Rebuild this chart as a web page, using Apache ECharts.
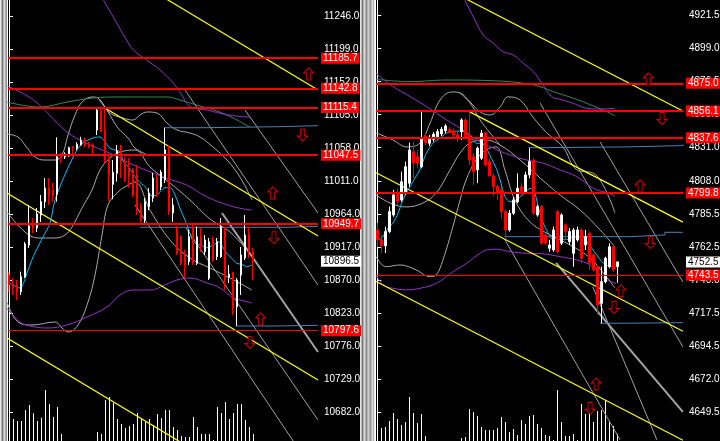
<!DOCTYPE html>
<html><head><meta charset="utf-8">
<script src="https://cdn.jsdelivr.net/npm/echarts@6/dist/echarts.min.js"></script>
<style>html,body{margin:0;padding:0;background:#000;overflow:hidden}#c{width:720px;height:441px}</style>
</head><body><div id="c"></div>
<script>
// ---------- tick labels ----------
const leftTicks = [10682.0,10729.0,10776.0,10823.0,10870.0,10917.0,10964.0,11011.0,11058.0,11105.0,11152.0,11199.0,11246.0];
const rightTicks = [4649.5,4672.0,4694.5,4717.5,4740.0,4762.5,4785.5,4808.0,4831.0,4853.5,4876.5,4899.0,4921.5];

// ---------- candles [open, high, low, close] ----------
const leftCandles = [
[10876.9,10881.2,10852.7,10862.6],[10865.0,10872.6,10848.4,10858.8],[10862.6,10869.8,10841.3,10853.1],[10853.1,10881.6,10848.4,10874.5],
[10874.5,10923.9,10872.6,10921.0],[10919.6,10976.6,10915.3,10946.7],[10950.5,10958.0,10936.7,10943.4],[10943.8,10972.3,10938.1,10963.7],
[10962.3,10990.8,10952.4,10981.3],[10981.3,11015.0,10972.3,11000.8],[11000.8,11015.0,10976.6,10990.8],[10999.3,11008.3,10981.3,10990.8],
[10991.8,11073.0,10981.3,11045.4],[11046.4,11050.2,11036.0,11043.1],[11044.9,11051.6,11042.1,11048.8],[11046.4,11059.6,11045.4,11058.2],
[11059.2,11060.6,11045.4,11057.3],[11057.3,11065.9,11054.9,11063.0],[11062.0,11073.8,11061.0,11069.1],[11069.1,11072.4,11058.7,11062.0],
[11063.0,11066.7,11057.3,11059.6],[11062.0,11064.4,11047.8,11061.0],[11083.4,11113.3,11076.2,11111.8],[11110.4,11114.7,11080.5,11081.0],
[11081.9,11115.1,11036.0,11040.6],[11043.1,11047.8,10982.3,11019.3],[11006.0,11040.6,10984.7,11023.1],[11021.7,11062.0,11009.7,11053.5],
[11060.6,11062.0,11015.0,11038.2],[11038.2,11045.4,11009.3,11012.2],[11026.4,11043.5,11001.2,11016.9],[11026.4,11029.3,10988.0,10990.8],
[11019.3,11033.5,10962.3,10972.3],[10974.1,10979.4,10951.4,10955.2],[10955.2,10986.5,10948.1,10981.3],[10973.7,11000.8,10969.4,10993.7],
[10986.5,11022.1,10980.8,11015.0],[11016.4,11019.3,10988.0,10990.8],[11002.2,11026.4,10997.9,11023.6],[11012.2,11086.2,11007.9,11054.9],
[11059.6,11062.0,10962.3,10967.0],[10965.2,10986.5,10952.4,10976.6],[10943.8,10946.7,10905.4,10908.2],[10931.4,10933.8,10891.1,10893.5],
[10905.4,10912.5,10872.6,10891.1],[10895.8,10941.0,10891.1,10931.4],[10943.8,10950.9,10891.1,10894.0],[10893.5,10945.7,10891.1,10931.4],
[10931.4,10943.8,10910.1,10919.6],[10910.1,10933.8,10905.4,10926.7],[10872.2,10929.6,10869.8,10924.3],[10926.7,10931.4,10895.4,10898.2],
[10903.0,10929.6,10898.2,10924.3],[10903.0,10958.0,10901.1,10945.7],[10943.4,10945.7,10855.5,10869.8],[10874.0,10891.1,10865.5,10878.3],
[10879.7,10881.6,10819.9,10829.9],[10831.7,10872.6,10804.3,10869.8],[10876.9,10916.8,10848.4,10905.4],[10901.1,10962.3,10898.2,10933.8],
[10933.8,10945.7,10901.1,10910.1],[10910.1,10915.3,10869.8,10896.5]
];
const rightCandles = [
[4774.4,4779.2,4762.8,4767.6],[4767.6,4771.0,4758.6,4763.6],[4763.6,4776.7,4758.6,4773.3],[4773.3,4790.4,4772.2,4787.0],
[4784.7,4801.9,4783.5,4798.4],[4799.6,4803.0,4791.6,4793.8],[4795.0,4814.4,4793.8,4807.5],[4799.6,4821.3,4798.4,4817.8],
[4806.5,4834.3,4804.1,4829.3],[4828.1,4835.0,4810.1,4820.2],[4824.7,4829.3,4816.7,4820.2],[4817.8,4855.6,4816.7,4836.6],
[4838.9,4840.8,4832.7,4834.3],[4833.9,4839.6,4832.0,4837.3],[4836.6,4841.6,4835.0,4840.1],[4838.4,4843.7,4837.5,4841.9],
[4840.3,4845.1,4838.9,4843.5],[4842.5,4847.1,4840.8,4845.8],[4843.5,4845.1,4840.3,4841.2],[4842.5,4844.2,4837.3,4839.6],
[4839.8,4841.9,4835.0,4838.0],[4841.9,4851.0,4836.2,4849.9],[4849.9,4851.0,4836.6,4837.3],[4839.6,4855.6,4819.0,4822.4],
[4824.7,4827.0,4805.3,4814.4],[4815.6,4831.6,4806.5,4830.5],[4823.6,4843.0,4822.4,4840.8],[4841.2,4841.9,4817.8,4819.0],
[4821.3,4823.6,4811.0,4811.5],[4811.5,4813.3,4797.3,4804.1],[4804.1,4805.3,4795.0,4799.6],[4801.9,4803.2,4782.4,4787.0],
[4787.0,4788.1,4769.0,4774.4],[4774.4,4788.1,4773.3,4785.9],[4785.9,4797.1,4784.7,4795.0],[4793.8,4813.3,4792.7,4803.0],
[4804.1,4806.7,4798.4,4800.7],[4800.7,4814.4,4799.6,4812.2],[4812.2,4830.5,4809.9,4821.3],[4822.4,4823.6,4784.7,4785.9],
[4784.7,4791.6,4783.5,4790.4],[4790.4,4791.6,4764.1,4765.3],[4771.0,4772.2,4764.1,4765.3],[4761.9,4767.6,4759.5,4764.1],
[4760.7,4776.7,4759.5,4774.4],[4787.0,4788.1,4758.4,4759.5],[4765.3,4785.9,4764.1,4784.7],[4777.9,4779.0,4767.6,4773.3],
[4766.4,4775.6,4764.1,4773.3],[4758.4,4775.6,4749.2,4774.4],[4767.6,4776.7,4766.4,4774.4],[4774.4,4775.6,4751.6,4755.0],
[4764.1,4774.4,4760.7,4769.8],[4772.2,4773.3,4747.0,4751.6],[4757.3,4758.4,4745.8,4747.0],[4749.2,4750.4,4716.1,4723.0],
[4724.1,4749.2,4710.4,4738.9],[4738.9,4756.1,4737.8,4755.0],[4749.2,4765.3,4748.1,4762.9],[4762.9,4764.1,4745.8,4747.0],
[4749.2,4752.5,4738.1,4752.5]
];

// ---------- tick volume ----------
const leftVolume = [237,220,200,200,310,360,277,200,233,510,370,240,340,70,0,0,0,0,0,0,0,0,90,70,410,440,380,220,170,130,150,170,280,220,190,220,160,270,230,310,310,140,110,50,40,40,240,140,70,70,70,10,340,280,390,220,280,370,370,210,140,70];
const rightVolume = [120,130,140,200,280,220,160,190,440,280,180,270,50,0,0,0,0,0,0,0,0,30,40,320,290,250,140,110,110,110,130,240,190,90,120,60,210,170,250,260,170,130,60,50,10,510,190,50,50,70,10,370,270,310,190,300,310,410,200,150,70];

// ---------- price levels ----------
const leftLevels = [11185.7,11142.8,11115.4,11047.5,10949.7];
const leftLevelsThin = [10797.6];
const leftLast = 10896.5;
const rightLevels = [4875.0,4856.1,4837.6,4799.8];
const rightLevelsThin = [4743.5];
const rightLast = 4752.5;

// ---------- indicator lines [barIndex, price] ----------
const leftCyan = [[-0.5,10866.9],[1,10862.6],[2.75,10858.4],[4.5,10879.7],[6,10902.5],[8.5,10931.0],[10.25,10950.9],[11.5,10983.7],[14.5,11026.4],[17,11054.9],[18.5,11064.9],[21,11072.0],[22.75,11073.4],[24,11066.7],[25.25,11057.3],[26.5,11054.9],[27.75,11052.5],[28.6,11038.2],[29.8,11031.1],[31.5,11016.9],[32.75,11008.9],[34.4,11000.3],[35.25,10990.8],[36.5,10989.8],[37.75,10995.5],[39,11001.2],[40.25,11001.2],[41.5,10990.8],[42.75,10971.9],[44,10955.2],[45.1,10938.5],[46.1,10924.3],[47.75,10919.6],[49.4,10915.8],[51.1,10919.6],[52.3,10924.3],[53.4,10917.2],[54.4,10907.8],[55.7,10900.7],[56.9,10893.5],[58.2,10892.1],[59.4,10888.7],[60.7,10891.1]];
const leftPurpleA = [[23.6,11268.5],[26.5,11240.0],[29.4,11211.5],[31.1,11197.3],[34.4,11183.1],[37.75,11168.8],[41.1,11149.9],[43.2,11133.2],[44.8,11119.0],[46.5,11114.3],[49.4,11111.9],[52.75,11107.2],[56.1,11103.7],[60.25,11101.5]];
const leftPurpleB = [[-0.4,11146.0],[6.1,11126.1],[14.4,11081.0],[19.4,11064.4],[25.25,11050.2],[31.1,11033.5],[35.25,11024.0],[39.4,11014.6],[44.4,11005.0],[49.4,10988.4],[56.1,10974.1],[60.7,10969.4]];
const leftPurpleC = [[-0.5,10829.9],[2.75,10809.9],[5.25,10804.3],[9.5,10801.4],[14.5,10805.7],[19.5,10817.1],[24.5,10831.3],[27.75,10848.4],[31,10855.5],[35.25,10855.5],[39.5,10864.1],[42,10869.8],[45.25,10872.6],[49.5,10865.5],[52.75,10858.4],[56,10844.1],[57.75,10841.3],[60.75,10837.0]];
const leftGreen = [[-0.5,11123.2],[7.75,11116.1],[14.5,11123.2],[21,11128.9],[27,11130.4],[39.5,11130.4],[42.75,11126.1],[47.75,11117.5],[52,11110.4],[56,11100.5],[60.25,11087.6]];
const leftBandUp = [[-0.5,11077.7],[2.25,11073.4],[4,11062.0],[6.5,11044.9],[9,11040.6],[11.5,11040.6],[13.25,11047.8],[14.75,11076.2],[16.5,11104.7],[18.25,11123.2],[20.75,11130.4],[22.25,11128.9],[25.25,11107.6],[28.5,11100.5],[31,11097.6],[32.75,11104.7],[34.5,11109.0],[37,11107.6],[39.5,11093.3],[42,11083.4],[45.25,11079.1],[47.75,11073.4],[51,11059.2],[54.5,11040.6],[57.75,11016.4],[60.75,10983.7]];
const leftBandAlt = [[22.25,11128.9],[24.75,11109.0],[27.25,11086.2],[29.75,11072.0],[31.5,11057.7],[35.25,11046.4]];
const leftBandMid = [[-0.5,10966.6],[4,10938.1],[7.25,10929.6],[11.5,10929.6],[14,10933.8],[15.75,10945.2],[18.25,10972.3],[20.75,10997.9],[22.75,11026.4],[25.25,11043.5],[27.75,11052.0],[31.5,11054.9],[35.25,11030.7],[40.25,11007.9],[45.25,10983.7],[50.25,10956.6],[55.25,10938.1],[60.75,10904.0]];
const leftBandLow = [[-0.5,10838.4],[2.25,10810.0],[5.75,10805.7],[11.5,10810.0],[13.25,10801.4],[14.75,10795.7],[17.25,10805.7],[19.75,10838.4],[21.5,10876.9],[23.25,10933.8],[24.75,10976.6],[27.25,10995.1],[29.75,11005.0],[31.5,11009.3],[35.25,10969.4],[40.25,10926.7],[45.25,10901.1],[50.25,10886.8],[55.25,10872.6],[60.75,10855.5]];
const leftRays = [[[44,11140.3],[77.25,10862.6]],[[59,11111.9],[77.25,10965.2]],[[31.5,10976.6],[77.25,10587.8]],[[44.25,10943.8],[77.25,10670.4]]];
const leftRayWide = [[53.25,10965.2],[77.25,10767.2]];
const leftChannel = [[[30,11301.8],[77.25,11140.3]],[[24,11114.7],[77.25,10932.4]],[[-0.5,10993.7],[77.25,10727.4]],[[-0.5,10787.2],[77.25,10521.3]]];
const leftBlue = [[[38.75,11086.6],[48.5,11088.1],[67.75,11089.5],[77.25,11089.5]],[[32.75,10944.8],[69.5,10946.2],[77.25,10946.2]],[[56.75,10804.3],[67,10805.2],[77.25,10805.2]]];
const leftArrowsUp = [[74.9,11163.1],[65.9,10993.6],[62.9,10814.2]];
const leftArrowsDown = [[73.4,11076.3],[66.25,10930.0],[60.25,10780.8]];

const rightCyan = [[-0.25,4769.8],[0.6,4768.0],[1.4,4769.8],[2.7,4775.6],[3.9,4779.0],[5.2,4785.9],[6.4,4795.0],[7.7,4801.9],[8.9,4807.6],[10.6,4815.6],[12.25,4827.0],[13.9,4833.9],[15.6,4837.3],[17.25,4840.8],[18.9,4841.9],[20.6,4842.3],[21.85,4841.9],[23.1,4839.6],[23.9,4836.2],[24.75,4833.9],[26,4833.9],[27.25,4830.5],[28.5,4823.6],[29.75,4816.7],[30.7,4808.7],[31.9,4797.3],[33.2,4793.8],[34.4,4793.8],[35.7,4797.3],[36.9,4799.6],[38.2,4803.0],[39.25,4800.7],[40.25,4790.4],[41.5,4779.0],[42.75,4772.1],[44,4767.6],[45.25,4769.8],[46.9,4767.6],[48.6,4768.7],[49.85,4769.8],[51.1,4769.8],[52.35,4766.4],[53.6,4761.9],[54.85,4757.3],[56.1,4752.7],[57.35,4750.4],[58.6,4749.2],[59.6,4750.4]];
const rightPurpleA = [[21.9,4932.2],[24.4,4918.5],[26.5,4908.2],[29,4902.5],[31.5,4896.7],[34,4894.5],[36.5,4888.8],[39,4883.0],[41.1,4875.1],[43.6,4865.9],[45.7,4864.1],[49,4861.3],[52.35,4857.9],[55.7,4857.4],[59.4,4857.9]];
const rightPurpleB = [[-0.3,4881.9],[4,4872.7],[8.2,4865.9],[12.35,4859.0],[17.35,4849.9],[20.7,4844.2],[24.85,4836.2],[29,4830.5],[33.2,4825.9],[37.35,4822.4],[41.5,4820.2],[45.7,4815.6],[49.85,4811.0],[54,4803.0],[57.35,4800.0],[59.4,4797.7]];
const rightPurpleC = [[-0.3,4743.5],[1.5,4736.7],[4,4734.4],[7.35,4733.3],[10.7,4734.4],[14.85,4737.9],[19,4745.8],[22.35,4751.6],[25.7,4758.4],[27.35,4760.7],[29.85,4761.2],[33.2,4759.5],[37.35,4758.4],[41.5,4758.0],[45.7,4756.1],[49.85,4753.8],[53.2,4750.4],[55.7,4743.5],[58.2,4739.0],[59.7,4737.9]];
const rightGreen = [[-0.3,4877.8],[8.2,4876.2],[17.35,4877.3],[29,4876.8],[36.5,4875.1],[40.7,4872.7],[44,4869.3],[49,4864.8],[54,4859.5],[57.35,4855.6],[59.4,4852.8]];
const rightBandUp = [[-0.3,4841.0],[3.9,4836.2],[7.4,4831.4],[10.7,4834.1],[13.2,4847.8],[15.7,4863.6],[18.7,4869.1],[20.7,4868.4],[23.2,4862.2],[25.7,4855.4],[28.2,4853.3],[30.7,4858.8],[32.7,4865.7],[35.7,4863.6],[38.9,4851.9],[42.4,4841.0],[46.4,4831.4],[49.9,4815.6],[53.9,4813.5],[55.7,4808.7],[58.2,4795.0],[59.4,4786.1]];
const rightBandAlt = [[20.7,4868.4],[23.2,4861.5],[25.7,4849.9],[28.2,4841.0],[30.7,4832.7]];
const rightBandMid = [[-0.3,4798.4],[3.2,4792.9],[7.2,4790.2],[11.4,4792.9],[14.7,4799.8],[18.2,4815.6],[20.7,4827.2],[23.2,4834.1],[26.9,4836.2],[30.7,4832.7],[35.7,4822.4],[40.7,4810.1],[45.7,4798.4],[50.7,4788.1],[55.7,4774.4],[59.4,4762.8]];
const rightBandLow = [[-0.3,4756.1],[2.2,4749.2],[5.7,4750.4],[9.7,4747.0],[13.2,4742.4],[14.7,4743.5],[16.4,4753.8],[18.9,4776.7],[20.7,4795.0],[22.2,4808.7],[24.7,4822.4],[27.2,4829.3],[29.7,4831.4],[31.9,4815.6],[34.4,4795.0],[38.2,4779.9],[43.2,4771.0],[48.2,4764.1],[53.2,4755.2],[56.9,4743.5],[59.4,4734.6]];
const rightRays = [[[55.7,4834.8],[76.4,4738.7]],[[40.7,4861.5],[76.4,4694.2]],[[31.9,4767.6],[60.7,4630.4]],[[53.9,4735.3],[69.9,4630.4]]];
const rightRayWide = [[44.7,4751.8],[76.4,4649.6]];
const rightChannel = [[[15,4943.1],[76.4,4856.0]],[[23,4855.6],[76.4,4779.8]],[[-0.3,4813.7],[76.4,4704.9]],[[-0.3,4739.0],[76.4,4630.1]]];
const rightBlue = [[[37.75,4830.9],[42.35,4831.4],[62.35,4832.3],[76.4,4833.2]],[[31.75,4769.8],[63.2,4771.0],[71.9,4772.8],[76.4,4772.8]],[[55.7,4710.4],[61.1,4710.8],[76.4,4710.8]]];
const rightArrowsUp = [[67.75,4878.0],[65.7,4804.6],[60.9,4732.6],[54.7,4668.8]];
const rightArrowsDown = [[71.2,4850.9],[68.25,4765.8],[59.2,4721.2],[53.2,4652.0]];

// ---------- build chart ----------
const FONT = "'Liberation Sans',Arial,sans-serif";
const UP = 'path://M5,0L10,5L7,5L7,12L3,12L3,5L0,5Z';
const DOWN = 'path://M3,0L7,0L7,7L10,7L5,12L0,7L3,7Z';
const series = [];
function line(g, data, color, width, z, extra) {
  series.push(Object.assign({type:'line', xAxisIndex:g, yAxisIndex:g, data:data, symbol:'none', silent:true,
    lineStyle:{color:color, width:width}, z:z, animation:false}, extra || {}));
}
function panel(g, P) {
  series.push({type:'bar', xAxisIndex:g+2, yAxisIndex:g+2, data:P.vol.map((v,k)=>[k,v]), barWidth:1,
    itemStyle:{color:'#fff'}, silent:true, z:1, animation:false});
  [P.bu, P.ba, P.bm, P.bl].forEach(d => line(g, d, '#a8a8a8', 1, 2, {smooth:0.4}));
  P.rays.forEach(d => line(g, d, '#a0a0a0', 1, 2));
  line(g, P.rayW, '#a4a4a4', 2, 2);
  line(g, P.green, '#2e8b57', 1, 2, {smooth:0.4});
  [P.pa, P.pb, P.pc].forEach(d => line(g, d, '#9932cc', 1, 2, {smooth:0.4}));
  P.blue.forEach(d => line(g, d, '#4682b4', 1, 2, {step:'end'}));
  P.chan.forEach(d => line(g, d, '#ffff00', 1.2, 3));
  line(g, P.cyan, '#00bfff', 1, 3, {smooth:0.3});
  series.push({type:'candlestick', xAxisIndex:g, yAxisIndex:g, barWidth:2, silent:true, animation:false, z:4,
    data:P.candles.map((c,k)=>[k,c[0],c[3],c[2],c[1]]),
    itemStyle:{color:'#ffffff', color0:'#ff0000', borderColor:'#ffffff', borderColor0:'#ff0000', borderWidth:1}});
  const lab = (v, bg, fg) => ({show:true, position:'end', distance:3, formatter:v.toFixed(1), color:fg,
    backgroundColor:bg, padding:[1,2,0,2], lineHeight:10, fontSize:10, fontFamily:FONT});
  const ml = [];
  P.levels.forEach(v => ml.push({yAxis:v, lineStyle:{color:'#ff0000', width:2, type:'solid'}, label:lab(v,'#ff0000','#ffffff')}));
  P.thin.forEach(v => ml.push({yAxis:v, lineStyle:{color:'#ff0000', width:1, type:'solid'}, label:lab(v,'#ff0000','#ffffff')}));
  ml.push({yAxis:P.last, lineStyle:{color:'rgba(0,0,0,0)', width:1, type:'solid'}, label:lab(P.last,'#ffffff','#000000')});
  series.push({type:'line', xAxisIndex:g, yAxisIndex:g, data:[], clip:false, silent:true, z:6, animation:false,
    markLine:{symbol:['none','none'], silent:true, animation:false, data:ml}});
  series.push({type:'scatter', xAxisIndex:g, yAxisIndex:g, data:P.up, symbol:UP, symbolSize:[10,12], z:8, silent:true,
    itemStyle:{color:'#000', borderColor:'#ff0000', borderWidth:1}, animation:false});
  series.push({type:'scatter', xAxisIndex:g, yAxisIndex:g, data:P.down, symbol:DOWN, symbolSize:[10,12], z:8, silent:true,
    itemStyle:{color:'#000', borderColor:'#ff0000', borderWidth:1}, animation:false});
}
panel(0, {vol:leftVolume, candles:leftCandles, bu:leftBandUp, ba:leftBandAlt, bm:leftBandMid, bl:leftBandLow,
  rays:leftRays, rayW:leftRayWide, green:leftGreen, pa:leftPurpleA, pb:leftPurpleB, pc:leftPurpleC, blue:leftBlue,
  chan:leftChannel, cyan:leftCyan, levels:leftLevels, thin:leftLevelsThin, last:leftLast, up:leftArrowsUp, down:leftArrowsDown});
panel(1, {vol:rightVolume, candles:rightCandles, bu:rightBandUp, ba:rightBandAlt, bm:rightBandMid, bl:rightBandLow,
  rays:rightRays, rayW:rightRayWide, green:rightGreen, pa:rightPurpleA, pb:rightPurpleB, pc:rightPurpleC, blue:rightBlue,
  chan:rightChannel, cyan:rightCyan, levels:rightLevels, thin:rightLevelsThin, last:rightLast, up:rightArrowsUp, down:rightArrowsDown});

function priceAxis(g, min, max, ticks) {
  return {gridIndex:g, type:'value', position:'right', min:min, max:max, scale:true,
    axisLine:{show:true, lineStyle:{color:'#ffffff', width:1}},
    axisTick:{show:true, length:4, inside:false, lineStyle:{color:'#ffffff'}, customValues:ticks},
    axisLabel:{show:true, color:'#ffffff', fontSize:10, fontFamily:FONT, margin:6, customValues:ticks,
      formatter:v => Number(v).toFixed(1)},
    splitLine:{show:false}};
}
function strip(x0, w) {
  const els = [{type:'rect', shape:{x:x0, y:0, width:w, height:441}, style:{fill:'#b4b4b4'}, silent:true}];
  const cols = ['#e8e8e8','#787878','#d4d4d4','#8c8c8c','#cccccc','#9a9a9a','#dcdcdc'];
  for (let k = 0; k < w; k += 2) {
    els.push({type:'rect', shape:{x:x0 + k, y:0, width:1, height:441}, style:{fill:cols[(k/2) % cols.length]}, silent:true});
  }
  els.push({type:'rect', shape:{x:x0 + w, y:0, width:1, height:441}, style:{fill:'#ffffff'}, silent:true});
  return els;
}

const chart = echarts.init(document.getElementById('c'), null, {renderer:'canvas'});
chart.setOption({
  backgroundColor:'#000000',
  animation:false,
  grid:[
    {left:8, top:0, width:310, height:441, outerBoundsMode:'none'},
    {left:376, top:0, width:307, height:441, outerBoundsMode:'none'},
    {left:8, top:381, width:310, height:60, outerBoundsMode:'none'},
    {left:376, top:381, width:307, height:60, outerBoundsMode:'none'}
  ],
  xAxis:[
    {gridIndex:0, type:'value', min:-0.25, max:77.25, show:false},
    {gridIndex:1, type:'value', min:-0.325, max:76.425, show:false},
    {gridIndex:2, type:'value', min:-0.375, max:77.125, show:false},
    {gridIndex:3, type:'value', min:-0.375, max:76.375, show:false}
  ],
  yAxis:[
    priceAxis(0, 10640.5, 11268.5, leftTicks),
    priceAxis(1, 4629.6, 4932.2, rightTicks),
    {gridIndex:2, type:'value', min:0, max:600, show:false},
    {gridIndex:3, type:'value', min:0, max:600, show:false}
  ],
  graphic:[].concat(strip(0, 7), strip(360, 15)),
  series:series
});
</script></body></html>
